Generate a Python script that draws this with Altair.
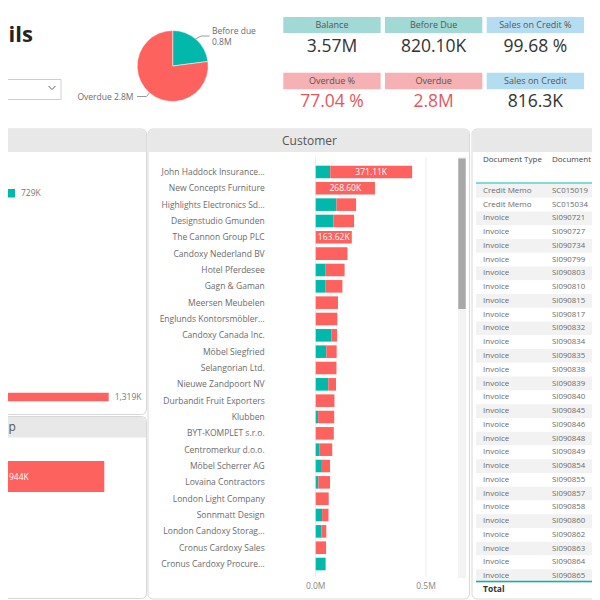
import altair as alt
import pandas as pd

# ---------------- data ----------------
customers = [
    "John Haddock Insurance...", "New Concepts Furniture", "Highlights Electronics Sd...",
    "Designstudio Gmunden", "The Cannon Group PLC", "Candoxy Nederland BV",
    "Hotel Pferdesee", "Gagn & Gaman", "Meersen Meubelen", "Englunds Kontorsmöbler...",
    "Candoxy Canada Inc.", "Möbel Siegfried", "Selangorian Ltd.", "Nieuwe Zandpoort NV",
    "Durbandit Fruit Exporters", "Klubben", "BYT-KOMPLET s.r.o.", "Centromerkur d.o.o.",
    "Möbel Scherrer AG", "Lovaina Contractors", "London Light Company", "Sonnmatt Design",
    "London Candoxy Storag...", "Cronus Cardoxy Sales", "Cronus Cardoxy Procure...",
]
before_due_k = [66, 0, 94, 80, 0, 0, 45, 45, 0, 0, 72, 48, 0, 57, 0, 11, 0, 18, 24, 12, 0, 29, 26, 0, 45]
overdue_k = [371.11, 268.60, 89, 94, 163.62, 144, 86, 76, 101, 98, 25, 47, 94, 35, 85, 73, 82, 57, 41, 53, 59, 29, 22, 47, 0]
status_names = ["Before due", "Overdue"]
cust_ticks_k = [0, 500]
cust_tick_labels = ["0.0M", "0.5M"]

pie_status = ["Before due", "Overdue"]
pie_values_m = [0.8201, 2.75]

kpi1_titles = ["Balance", "Before Due", "Sales on Credit %"]
kpi1_values = ["3.57M", "820.10K", "99.68 %"]
kpi1_groups = ["balance", "balance", "credit"]
kpi2_titles = ["Overdue %", "Overdue", "Sales on Credit"]
kpi2_values = ["77.04 %", "2.8M", "816.3K"]
kpi2_groups = ["overdue", "overdue", "credit"]

left_buckets = ["Not Due", "Over 90 Days"]
left_values_k = [729, 1319]
left_labels = ["729K", "1,319K"]
group_bucket = ["Domestic"]
group_values_k = [944]
group_labels = ["944K"]

doc_types = ["Credit Memo"] * 2 + ["Invoice"] * 27
doc_nos = ["SC015019", "SC015034", "SI090721", "SI090727", "SI090734", "SI090799", "SI090803",
           "SI090810", "SI090815", "SI090817", "SI090832", "SI090834", "SI090835", "SI090838",
           "SI090839", "SI090840", "SI090845", "SI090846", "SI090848", "SI090849", "SI090854",
           "SI090855", "SI090857", "SI090858", "SI090860", "SI090862", "SI090863", "SI090864",
           "SI090865"]
table_headers = ["Document Type", "Document No."]
title_text = "ils"          # visible (cropped) part of the dashboard title
group_title_text = "p"      # visible (cropped) part of the lower-left panel title
panel_title = "Customer"
total_text = "Total"

# ---------------- styling helpers ----------------
OFF = 8
def px(v):
    return v - OFF

TEAL = "#01B8AA"
RED = "#FD625E"
FONT = "Segoe UI, Open Sans, sans-serif"
GRAYTXT = "#6b6b6b"

def dummy():
    return alt.Chart(pd.DataFrame({"d": [0]}))

def box(x1, x2, y1, y2, **kw):
    return dummy().mark_rect(**kw).encode(
        x=alt.value(px(x1)), x2=alt.value(px(x2)), y=alt.value(px(y1)), y2=alt.value(px(y2)))

def seg(x1, y1, x2, y2, color="#9a9a9a", w=1):
    return dummy().mark_rule(color=color, strokeWidth=w).encode(
        x=alt.value(px(x1)), y=alt.value(px(y1)), x2=alt.value(px(x2)), y2=alt.value(px(y2)))

def label(text, x, y, **kw):
    return dummy().mark_text(text=text, font=FONT, **kw).encode(x=alt.value(px(x)), y=alt.value(px(y)))

layers = []

# panels
PANEL = dict(fill="white", stroke="#d8d8d8", strokeWidth=1, cornerRadius=5)
HEAD = dict(fill="#e8e8e8", cornerRadiusTopLeft=5, cornerRadiusTopRight=5)
layers += [
    box(-30, 146.5, 129, 414.5, **PANEL), box(-29.5, 146, 129.5, 152, **HEAD),
    box(-30, 146.5, 416.5, 598.5, **PANEL), box(-29.5, 146, 417, 437.5, **HEAD),
    box(148, 469.5, 129, 599, **PANEL), box(148.5, 469, 129.5, 152, **HEAD),
    box(472, 640, 129, 599, **PANEL), box(472.5, 640, 129.5, 152, **HEAD),
]
layers.append(label(group_title_text, 8.5, 426.5, align="left", baseline="middle", fontSize=12, color="#555"))

# title + dropdown
layers.append(label(title_text, 8.5, 35, align="left", baseline="middle", fontSize=22,
                    fontWeight="bold", color="#252423"))
layers.append(box(-30, 61, 79.5, 99.5, fill="white", stroke="#cfcfcf", strokeWidth=1))
layers += [seg(48.5, 86, 52, 89.5, color="#666"), seg(52, 89.5, 55.5, 86, color="#666")]

# pie
pie_df = pd.DataFrame({"status": pie_status, "value": pie_values_m, "ord": [0, 1]})
pie_df["txt"] = [f"{v:.1f}M" for v in pie_values_m]
color_status = alt.Scale(domain=status_names, range=[TEAL, RED])
layers.append(alt.Chart(pie_df).mark_arc(outerRadius=35.5, stroke="white", strokeWidth=0.5).encode(
    theta=alt.Theta("value:Q", stack=True),
    color=alt.Color("status:N", scale=color_status, legend=None),
    order=alt.Order("ord:Q"),
    x=alt.value(px(172.7)), y=alt.value(px(66)),
))
layers += [seg(195.5, 39, 201, 36), seg(201, 36, 209.5, 36),
           seg(137, 96.5, 146.5, 96.5), seg(146.5, 96.5, 149.5, 92.8)]
layers.append(alt.Chart(pie_df).transform_filter("datum.status == 'Before due'").mark_text(
    align="left", baseline="middle", font=FONT, fontSize=8.5, color=GRAYTXT).encode(
    text="status:N", x=alt.value(px(212)), y=alt.value(px(31))))
layers.append(alt.Chart(pie_df).transform_filter("datum.status == 'Before due'").mark_text(
    align="left", baseline="middle", font=FONT, fontSize=8.5, color=GRAYTXT).encode(
    text="txt:N", x=alt.value(px(212)), y=alt.value(px(41.5))))
layers.append(alt.Chart(pie_df).transform_filter("datum.status == 'Overdue'").transform_calculate(
    lab="datum.status + ' ' + datum.txt").mark_text(
    align="right", baseline="middle", font=FONT, fontSize=8.5, color=GRAYTXT).encode(
    text="lab:N", x=alt.value(px(133.5)), y=alt.value(px(96.5))))

# KPI cards
head_col = alt.Scale(domain=["balance", "overdue", "credit"], range=["#a0d9d6", "#f5b1b3", "#b5ddf1"])
val_col = alt.Scale(domain=["balance", "overdue", "credit"], range=["#333333", "#e4575e", "#333333"])
for titles, values, groups, hy1, hy2, vy in [
    (kpi1_titles, kpi1_values, kpi1_groups, 17, 33, 47),
    (kpi2_titles, kpi2_values, kpi2_groups, 72.7, 89.3, 102),
]:
    kdf = pd.DataFrame({"title": titles, "value": values, "group": groups})
    xs = alt.Scale(type="band", domain=titles, range=[px(283.3), px(584)], paddingInner=0.043, paddingOuter=0)
    xe = alt.X("title:N", scale=xs, axis=None, sort=titles)
    layers.append(alt.Chart(kdf).mark_rect().encode(
        x=xe, y=alt.value(px(hy1)), y2=alt.value(px(hy2)),
        color=alt.Color("group:N", scale=head_col, legend=None)))
    layers.append(alt.Chart(kdf).mark_text(font=FONT, fontSize=9, color="#555", baseline="middle").encode(
        x=xe, y=alt.value(px((hy1 + hy2) / 2)), text="title:N"))
    layers.append(alt.Chart(kdf).mark_text(font=FONT, fontSize=17.5, baseline="middle").encode(
        x=xe, y=alt.value(px(vy)), text="value:N",
        color=alt.Color("group:N", scale=val_col, legend=None)))

# left top bar chart
ldf = pd.DataFrame({"bucket": left_buckets, "value": left_values_k, "lab": left_labels})
lx = alt.Scale(domain=[0, 1319], range=[px(-100.8), px(108.7)], nice=False, zero=True)
ly = alt.Scale(type="point", domain=left_buckets, range=[px(193.3), px(397)], padding=0)
layers.append(alt.Chart(ldf).mark_bar(size=8.5).encode(
    x=alt.X("value:Q", scale=lx, axis=None),
    y=alt.Y("bucket:N", scale=ly, axis=None, sort=left_buckets),
    color=alt.Color("bucket:N", scale=alt.Scale(domain=left_buckets, range=[TEAL, RED]), legend=None)))
layers.append(alt.Chart(ldf).mark_text(align="left", dx=6, font=FONT, fontSize=8.5, color="#777",
                                       baseline="middle").encode(
    x=alt.X("value:Q", scale=lx, axis=None),
    y=alt.Y("bucket:N", scale=ly, axis=None, sort=left_buckets), text="lab:N"))

# left bottom bar chart
gdf = pd.DataFrame({"bucket": group_bucket, "value": group_values_k, "lab": group_labels})
gx = alt.Scale(domain=[0, 944], range=[px(-86), px(104.3)], nice=False, zero=True)
gy = alt.Scale(type="band", domain=group_bucket, range=[px(461), px(492)], paddingInner=0, paddingOuter=0)
layers.append(alt.Chart(gdf).mark_bar(color=RED).encode(
    x=alt.X("value:Q", scale=gx, axis=None), y=alt.Y("bucket:N", scale=gy, axis=None)))
layers.append(alt.Chart(gdf).mark_text(font=FONT, fontSize=8.5, color="white", baseline="middle",
                                       align="left").encode(
    x=alt.value(px(9)), y=alt.Y("bucket:N", scale=gy, axis=None), text="lab:N"))

# customer stacked bars
rows = []
for c, b, o in zip(customers, before_due_k, overdue_k):
    rows.append({"customer": c, "status": "Before due", "value": b, "ord": 0})
    rows.append({"customer": c, "status": "Overdue", "value": o, "ord": 1})
cdf = pd.DataFrame(rows)
cx = alt.Scale(domain=[0, 500], range=[px(315.7), px(426)], nice=False, zero=True)
cy = alt.Scale(type="band", domain=customers, range=[px(163.8), px(572.2)], paddingInner=0.23, paddingOuter=0.115)

gridf = pd.DataFrame({"v": cust_ticks_k, "lab": cust_tick_labels})
layers.append(alt.Chart(gridf).mark_rule(color="#ececec", strokeWidth=1).encode(
    x=alt.X("v:Q", scale=cx, axis=None), y=alt.value(px(157)), y2=alt.value(px(577))))
layers.append(alt.Chart(cdf).mark_bar().encode(
    x=alt.X("value:Q", stack="zero", scale=cx, axis=None),
    y=alt.Y("customer:N", scale=cy, axis=None, sort=customers),
    color=alt.Color("status:N", scale=color_status, legend=None),
    order=alt.Order("ord:Q")))
labdf = pd.DataFrame({"customer": customers, "b": before_due_k, "o": overdue_k})
labdf["mid"] = labdf["b"] + labdf["o"] / 2
labdf["txt"] = [f"{v:.2f}K" for v in overdue_k]
layers.append(alt.Chart(labdf).transform_filter("datum.o >= 150").mark_text(
    font=FONT, fontSize=8.5, color="white", baseline="middle").encode(
    x=alt.X("mid:Q", scale=cx, axis=None),
    y=alt.Y("customer:N", scale=cy, axis=None, sort=customers), text="txt:N"))
layers.append(alt.Chart(labdf).mark_text(
    font=FONT, fontSize=8.5, color=GRAYTXT, align="right", baseline="middle").encode(
    x=alt.value(px(264.7)),
    y=alt.Y("customer:N", scale=cy, axis=None, sort=customers), text="customer:N"))
layers.append(alt.Chart(gridf).mark_text(font=FONT, fontSize=8.5, color="#888", baseline="middle").encode(
    x=alt.X("v:Q", scale=cx, axis=None), y=alt.value(px(585.5)), text="lab:N"))
layers.append(label(panel_title, 309.5, 141, align="center", baseline="middle", fontSize=12, color="#555"))
layers.append(box(458, 466, 157, 578, fill="#f3f3f3"))
layers.append(box(458.3, 465.7, 158.5, 309, fill="#a8a8a8"))

# table
tdf = pd.DataFrame({"doc_type": doc_types, "doc_no": doc_nos})
tdf["parity"] = ["odd" if i % 2 else "even" for i in range(len(tdf))]
ty = alt.Scale(type="band", domain=doc_nos, range=[px(184.1), px(582.9)], paddingInner=0, paddingOuter=0)
tye = alt.Y("doc_no:N", scale=ty, axis=None, sort=doc_nos)
layers.append(alt.Chart(tdf).mark_rect().encode(
    y=tye, x=alt.value(px(476)), x2=alt.value(px(640)),
    color=alt.Color("parity:N", scale=alt.Scale(domain=["even", "odd"], range=["#f2f2f2", "#ffffff"]), legend=None)))
layers.append(alt.Chart(tdf).mark_text(font=FONT, fontSize=8, color=GRAYTXT, align="left", baseline="middle").encode(
    y=tye, x=alt.value(px(483)), text="doc_type:N"))
layers.append(alt.Chart(tdf).mark_text(font=FONT, fontSize=7.8, color=GRAYTXT, align="left", baseline="middle").encode(
    y=tye, x=alt.value(px(552)), text="doc_no:N"))
layers.append(label(table_headers[0], 483, 160, align="left", baseline="middle", fontSize=8, color="#444"))
layers.append(label(table_headers[1], 552, 160, align="left", baseline="middle", fontSize=8, color="#444"))
layers.append(seg(476, 183, 640, 183, color=TEAL, w=1))
layers.append(seg(476, 581.5, 640, 581.5, color=TEAL, w=1.5))
layers.append(label(total_text, 483, 589, align="left", baseline="middle", fontSize=8.5,
                    fontWeight="bold", color="#333"))

chart = alt.layer(*layers).resolve_scale(
    x="independent", y="independent", color="independent", theta="independent"
).properties(
    width=584, height=592, autosize=alt.AutoSizeParams(type="none"), padding=0, background="white"
).configure_view(stroke=None)

chart.save("out.html", embed_options={"renderer": "svg", "actions": False})
